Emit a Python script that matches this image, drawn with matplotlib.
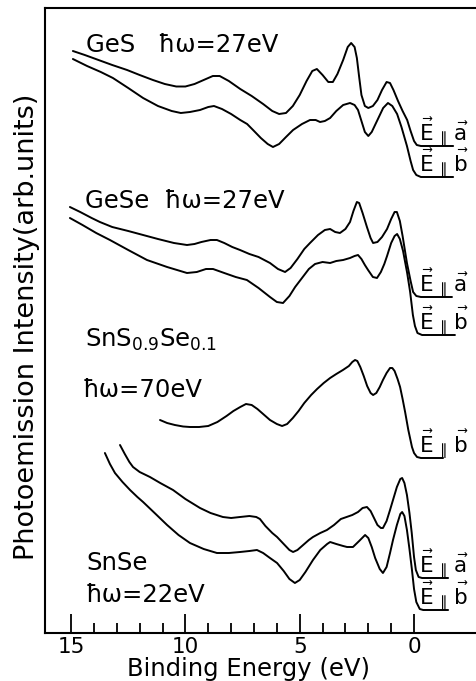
import numpy as np
import matplotlib
matplotlib.use('Agg')
import matplotlib.pyplot as plt
from matplotlib.ticker import FixedLocator, NullFormatter

plt.rcParams['font.family'] = ['DejaVu Sans']
plt.rcParams['mathtext.fontset'] = 'dejavusans'

# binding energy (eV) and intensity (arb. units) of each spectrum
ges_a_E = [14.92, 14.4, 13.8, 13.2, 12.55, 12.0, 11.42, 10.9, 10.4, 10.0, 9.6, 9.2, 8.8, 8.5,
           8.1, 7.6, 7.1, 6.6, 6.2, 5.9, 5.6, 5.3, 5.0, 4.7, 4.45, 4.25, 4.0, 3.75, 3.55,
           3.35, 3.1, 2.9, 2.75, 2.6, 2.5, 2.4, 2.3, 2.15, 2.0, 1.8, 1.6, 1.4, 1.2, 1.05,
           0.9, 0.7, 0.5, 0.3, 0.15, 0.0, -0.12, -0.3, -1.71]
ges_a_I = [582, 578, 573, 568, 563, 558, 553, 549, 546.5, 546.5, 549, 553, 557, 557,
           552, 544, 537, 529, 522, 519, 520, 527, 538, 552, 562, 564, 558, 551, 551,
           559, 573, 586, 590, 586, 575, 556, 538, 527, 525, 527, 533, 543, 551, 550,
           543, 532, 522, 513, 502, 492, 488, 487, 487]

ges_b_E = [14.92, 14.3, 13.7, 13.17, 12.5, 11.85, 11.2, 10.6, 10.2, 9.8, 9.36, 9.0, 8.75,
           8.4, 8.0, 7.6, 7.3, 7.04, 6.7, 6.4, 6.17, 5.9, 5.6, 5.29, 4.9, 4.55, 4.3, 4.11,
           3.9, 3.67, 3.4, 3.1, 2.8, 2.6, 2.45, 2.3, 2.15, 2.0, 1.85, 1.6, 1.35, 1.14, 0.95,
           0.74, 0.55, 0.31, 0.15, 0.04, -0.1, -0.3, -1.71]
ges_b_I = [574, 567, 561, 555, 545, 535, 527, 522, 520, 521, 523, 526, 527,
           524, 519, 513, 509, 503, 495, 489, 486, 489, 496, 503, 509, 513, 513, 511,
           512, 515, 522, 528, 530, 528, 523, 512, 501, 497, 501, 513, 525, 530, 527,
           519, 506, 487, 472, 463, 458, 456, 456]

gese_a_E = [15.05, 14.6, 14.1, 13.74, 13.2, 12.5, 11.85, 11.2, 10.5, 9.93, 9.6, 9.3, 8.9,
            8.62, 8.3, 7.95, 7.61, 7.2, 6.8, 6.3, 5.95, 5.64, 5.4, 5.1, 4.8, 4.55, 4.2, 3.9,
            3.67, 3.45, 3.24, 3.0, 2.8, 2.65, 2.5, 2.4, 2.25, 2.06, 1.9, 1.79, 1.6, 1.4,
            1.18, 1.0, 0.85, 0.75, 0.62, 0.5, 0.31, 0.15, 0.04, -0.1, -0.3, -1.66]
gese_a_I = [426, 421, 415, 411, 406, 402, 398, 394, 390, 388, 389, 391, 393,
            393, 390, 386, 383, 379, 376, 370, 364, 361, 365, 374, 384, 390, 398, 403,
            404, 401, 400, 404, 411, 422, 431, 430, 420, 406, 395, 390, 391, 396,
            404, 414, 421, 421, 412, 397, 370, 352, 341, 337, 336, 336]

gese_b_E = [15.05, 14.5, 13.9, 13.3, 12.5, 11.68, 10.8, 9.93, 9.5, 9.1, 8.79, 8.3, 7.8,
            7.31, 6.8, 6.3, 6.0, 5.73, 5.45, 5.2, 4.9, 4.6, 4.33, 4.0, 3.67, 3.4, 3.1, 2.8,
            2.6, 2.45, 2.3, 2.15, 2.01, 1.8, 1.62, 1.45, 1.3, 1.18, 1.0, 0.85, 0.74, 0.62,
            0.48, 0.3, 0.17, 0.05, -0.04, -0.15, -0.35, -1.79]
gese_b_I = [415, 408, 400, 393, 383, 373, 366, 360, 361, 364, 364, 360, 356,
            353, 345, 336, 331, 330, 337, 346, 355, 364, 369, 371, 370, 372, 373, 375,
            377, 378, 374, 368, 363, 356, 355, 361, 369, 377, 390, 397, 399, 394,
            382, 360, 341, 318, 307, 300, 298, 298]

sns_b_E = [11.11, 10.8, 10.46, 10.1, 9.8, 9.4, 9.0, 8.6, 8.2, 7.9, 7.6, 7.35, 7.1, 6.85,
           6.6, 6.3, 6.0, 5.77, 5.55, 5.3, 5.05, 4.8, 4.5, 4.24, 3.95, 3.67, 3.4, 3.11,
           2.85, 2.7, 2.58, 2.48, 2.35, 2.2, 2.05, 1.9, 1.79, 1.65, 1.5, 1.36, 1.2, 1.05,
           0.95, 0.85, 0.72, 0.61, 0.5, 0.39, 0.25, 0.09, 0.0, -0.13, -0.3, -1.27]
sns_b_I = [213, 210, 208, 206.5, 206, 206, 207, 211, 217, 222, 226, 229, 228, 224,
           219, 213, 209, 207, 209, 215, 222, 230, 238, 244, 250, 255, 259, 263,
           267, 271, 273, 272, 266, 257, 247, 240, 238, 240, 246, 253, 260, 265,
           265, 262, 254, 246, 234, 221, 203, 186, 180, 176, 175, 175]

snse_a_E = [12.86, 12.65, 12.45, 12.29, 12.0, 11.55, 11.1, 10.54, 10.0, 9.36, 8.9, 8.36,
            8.0, 7.61, 7.2, 6.9, 6.74, 6.5, 6.2, 5.99, 5.7, 5.45, 5.29, 5.1, 4.85, 4.6,
            4.42, 4.1, 3.81, 3.5, 3.2, 2.95, 2.7, 2.45, 2.25, 2.06, 1.9, 1.75, 1.6, 1.45,
            1.36, 1.2, 1.05, 0.92, 0.75, 0.6, 0.52, 0.42, 0.31, 0.2, 0.1, 0.0, -0.08,
            -0.2, -0.35, -1.49]
snse_a_I = [188, 179, 171, 166, 161, 156, 150, 143, 134, 125, 120, 116,
            115, 116, 117, 116, 114, 107, 100, 96, 89, 83, 81, 83, 88, 93,
            96, 100, 103, 108, 114, 116, 118, 121, 125, 126, 122, 115, 108, 105,
            105, 112, 123, 133, 146, 154, 155, 150, 138, 120, 100, 76, 63,
            56, 55, 55]

snse_b_E = [13.52, 13.3, 13.08, 12.75, 12.42, 12.1, 11.85, 11.3, 10.8, 10.3, 9.8, 9.2,
            8.62, 8.1, 7.61, 7.2, 6.87, 6.6, 6.3, 5.99, 5.7, 5.45, 5.21, 5.0, 4.75, 4.42,
            4.1, 3.8, 3.67, 3.4, 3.1, 2.93, 2.67, 2.4, 2.14, 2.0, 1.85, 1.7, 1.5, 1.36,
            1.2, 1.05, 0.92, 0.75, 0.6, 0.52, 0.42, 0.31, 0.2, 0.09, 0.0, -0.1, -0.25,
            -0.4, -1.49]
snse_b_I = [180, 169, 160, 151, 143, 136, 131, 119, 108, 98, 90, 84,
            80, 80, 81, 82, 83, 80, 75, 70, 62, 54, 50, 53, 61, 73,
            83, 89, 91, 89, 87, 86, 86, 92, 98, 95, 86, 75, 64, 60,
            66, 80, 93, 108, 119, 121, 117, 103, 84, 63, 44, 31, 24,
            23, 23]

# polarisation tags written at the flat tail of each spectrum
lbl_a = r'$\vec{\mathrm{E}}\,_{\parallel}\,\vec{\mathrm{a}}$'
lbl_b = r'$\vec{\mathrm{E}}\,_{\parallel}\,\vec{\mathrm{b}}$'

spectra = [
    (ges_a_E, ges_a_I, lbl_a),
    (ges_b_E, ges_b_I, lbl_b),
    (gese_a_E, gese_a_I, lbl_a),
    (gese_b_E, gese_b_I, lbl_b),
    (sns_b_E, sns_b_I, lbl_b),
    (snse_a_E, snse_a_I, lbl_a),
    (snse_b_E, snse_b_I, lbl_b),
]

W, H = 476, 681
fig = plt.figure(figsize=(W/100, H/100), dpi=100)
# axes run past the right edge of the figure, so no right frame is seen
ax = fig.add_axes([45/W, (H-633)/H, (500-45)/W, (633-8)/H])

for E, I, lab in spectra:
    ax.plot(E, I, color='k', linewidth=1.4, solid_joinstyle='round', solid_capstyle='round')
    ax.text(-0.2, I[-1] + 6, lab, fontsize=15.5, ha='left', va='baseline')

fs = 17.5
ax.text(14.35, 581, u'GeS   \u0127\u03c9=27eV', fontsize=fs, ha='left', va='baseline')
ax.text(14.39, 425, u'GeSe  \u0127\u03c9=27eV', fontsize=fs, ha='left', va='baseline')
ax.text(14.39, 286, r'SnS$_{0.9}$Se$_{0.1}$', fontsize=fs, ha='left', va='baseline')
ax.text(14.48, 236, u'\u0127\u03c9=70eV', fontsize=fs, ha='left', va='baseline')
ax.text(14.35, 63, 'SnSe', fontsize=fs, ha='left', va='baseline')
ax.text(14.35, 31, u'\u0127\u03c9=22eV', fontsize=fs, ha='left', va='baseline')

ax.set_xlim(16.14, -3.76)
ax.set_ylim(0, 625)
ax.xaxis.set_major_locator(FixedLocator([15, 10, 5, 0]))
ax.xaxis.set_minor_locator(FixedLocator([1, 2, 3, 4, 6, 7, 8, 9, 11, 12, 13, 14]))
ax.xaxis.set_minor_formatter(NullFormatter())
ax.set_xticklabels(['15', '10', '5', '0'])
ax.tick_params(axis='x', which='major', direction='in', length=14, width=1.3,
               labelsize=15.5, pad=3)
ax.tick_params(axis='x', which='minor', direction='in', length=7, width=1.3)
ax.set_yticks([])
ax.spines['right'].set_visible(False)
for s in ['left', 'bottom', 'top']:
    ax.spines[s].set_linewidth(1.5)

fig.text(248/W, 1 - 676/H, 'Binding Energy (eV)', fontsize=17.5, ha='center', va='baseline')
fig.text(27/W, 1 - 327/H, 'Photoemission Intensity(arb.units)', fontsize=19.5,
         rotation=90, ha='center', va='center')

plt.savefig('out.png', dpi=100)
